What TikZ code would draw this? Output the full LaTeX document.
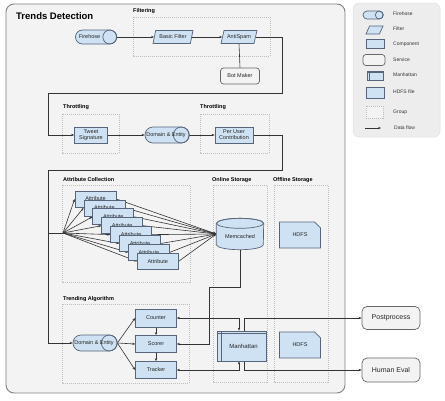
\documentclass[tikz,border=0pt]{standalone}
\usepackage{fontspec}
\setmainfont{Liberation Sans}
\usetikzlibrary{shapes.geometric,shapes.misc,arrows.meta,calc}
\pgfdeclarelayer{back}\pgfdeclarelayer{mid}
\pgfsetlayers{back,mid,main}
\definecolor{compfill}{HTML}{CFE2F3}
\definecolor{compdraw}{HTML}{56657A}
\definecolor{mainfill}{HTML}{F3F3F3}
\definecolor{maindraw}{HTML}{808080}
\definecolor{grpdraw}{HTML}{BDBDBD}
\definecolor{flowcol}{HTML}{333333}
\definecolor{legfill}{HTML}{EDEDED}
\tikzset{
 txt/.style={font=\fontsize{5.5}{6.2}\selectfont, text=black!85},
 grplabel/.style={font=\fontsize{5.5}{6}\selectfont\bfseries, anchor=west, inner sep=0pt},
 grp/.style={draw=grpdraw, dash pattern=on 1pt off 1pt, line width=0.6pt},
 comp/.style={rectangle, draw=compdraw, fill=compfill, line width=0.7pt, inner sep=0pt, txt, align=center},
 filt/.style={trapezium, trapezium left angle=70, trapezium right angle=110, trapezium stretches=true, draw=compdraw, fill=compfill, line width=0.7pt, inner sep=1pt, txt},
 fire/.style={rounded rectangle, draw=compdraw, fill=compfill, line width=0.7pt, inner sep=0pt},
 edge line/.style={draw=compdraw, line width=0.7pt},
 serv/.style={rectangle, rounded corners=3pt, draw=black!60, fill=mainfill, line width=0.7pt, inner sep=0pt, txt},
 hdfsf/.style={chamfered rectangle, chamfered rectangle corners=north east, chamfered rectangle xsep=4pt, chamfered rectangle ysep=4pt, draw=compdraw, fill=compfill, line width=0.7pt, inner sep=0pt, txt},
 flow/.style={draw=flowcol, line width=0.6pt},
 arr/.style={flow, -{Stealth[length=3pt,width=2.4pt]}},
 darr/.style={flow, {Stealth[length=3pt,width=2.4pt]}-{Stealth[length=3pt,width=2.4pt]}},
 legtxt/.style={font=\fontsize{5}{6}\selectfont, text=black!80, anchor=west, inner sep=0pt},
}
% cap circle at the right end of a firehose node: #1 node name, #2 radius
\newcommand{\fhcap}[2]{\draw[edge line] ([xshift=-#2]#1.east) circle[radius=#2];}
% inner lines of a Manhattan node: #1 node name, #2 top offset, #3 left offset
\newcommand{\mhlines}[3]{\draw[edge line] ([yshift=-#2]#1.north west) -- ([yshift=-#2]#1.north east) ([xshift=#3]#1.north west) -- ([xshift=#3]#1.south west);}
\begin{document}
\begin{tikzpicture}[x=1pt,y=-1pt]
\useasboundingbox (0,0) rectangle (445,400);
\begin{pgfonlayer}{back}
\draw[fill=mainfill, draw=maindraw, line width=0.9pt, rounded corners=8pt] (6,4) rectangle (345,393);
\draw[fill=legfill, draw=black!12, line width=0.5pt, rounded corners=6pt] (353,3) rectangle (440,137);
\draw[grp] (133,17) rectangle (270,56);
\draw[grp] (62,114) rectangle (119,153);
\draw[grp] (200,114) rectangle (269,153);
\draw[grp] (62,185) rectangle (190,282);
\draw[grp] (213,185) rectangle (267,382);
\draw[grp] (274,185) rectangle (328,382);
\draw[grp] (62,304) rectangle (189,383);
\end{pgfonlayer}

% titles
\node[font=\fontsize{9.5}{10}\selectfont\bfseries, anchor=west, inner sep=0pt] (title) at (16,16) {Trends Detection};
\node[grplabel] (gFilt) at (133,11) {Filtering};
\node[grplabel] (gThr1) at (63,107) {Throttling};
\node[grplabel] (gThr2) at (200,107) {Throttling};
\node[grplabel] (gAttr) at (63,180) {Attribute Collection};
\node[grplabel] (gOn) at (212,180) {Online Storage};
\node[grplabel] (gOff) at (273,180) {Offline Storage};
\node[grplabel] (gTrend) at (63,299) {Trending Algorithm};

% filtering
\node[fire, minimum height=14pt, minimum width=41pt] (firehose) at (96,37) {};
\fhcap{firehose}{7pt}
\node[txt, inner sep=0pt] (firehoseT) at (89.5,37) {Firehose};
\node[filt, minimum width=40pt, minimum height=13pt] (bfilter) at (173,37) {Basic Filter};
\node[filt, minimum width=36pt, minimum height=13pt] (antispam) at (239,37) {AntiSpam};
\node[serv, minimum width=39pt, minimum height=16pt] (botmaker) at (240,76) {Bot Maker};

% throttling
\node[comp, minimum width=33pt, minimum height=16pt] (tweetsig) at (91,135) {Tweet\\Signature};
\node[fire, minimum height=16pt, minimum width=44pt] (de1) at (167,135) {};
\fhcap{de1}{8pt}
\node[txt, inner sep=0pt] (de1T) at (166,135) {Domain \& Entity};
\node[comp, minimum width=38pt, minimum height=16pt] (peruser) at (234,135) {Per User\\Contribution};

% attributes
\foreach \i in {1,...,8}{
  \node[comp, minimum width=41pt, minimum height=16pt] (attr\i) at ({95.5+(\i-1)*8.9},{199+(\i-1)*8.9}) {Attribute};
}
\node[rectangle, inner sep=0pt, minimum height=31pt, minimum width=47pt] (memc) at (240,234) {};
\filldraw[fill=compfill, edge line] ([yshift=-5pt]memc.north west) -- ([yshift=5pt]memc.south west) arc[start angle=180, end angle=360, x radius=23.5pt, y radius=5pt] -- ([yshift=-5pt]memc.north east) arc[start angle=0, end angle=180, x radius=23.5pt, y radius=5pt] -- cycle;
\draw[edge line] ([yshift=-5pt]memc.north) ellipse[x radius=23.5pt, y radius=5pt];
\node[txt, inner sep=0pt] (memcT) at (240,237) {Memcached};
\node[hdfsf, minimum width=41pt, minimum height=26pt] (hdfs1) at (300,235) {HDFS};

% trending
\node[fire, minimum height=16pt, minimum width=44pt] (de2) at (95,343) {};
\fhcap{de2}{8pt}
\node[txt, inner sep=0pt] (de2T) at (94,343) {Domain \& Entity};
\node[comp, minimum width=41pt, minimum height=18pt] (counter) at (156,318) {Counter};
\node[comp, minimum width=41pt, minimum height=17pt] (scorer) at (156,344) {Scorer};
\node[comp, minimum width=41pt, minimum height=17pt] (tracker) at (156,370) {Tracker};
\node[comp, minimum width=49pt, minimum height=30pt, font=\fontsize{6}{7}\selectfont] (manh) at (241.5,346) {\hspace*{4pt}Manhattan};
\mhlines{manh}{3pt}{5pt}
\node[hdfsf, minimum width=41pt, minimum height=26pt] (hdfs2) at (300,345) {HDFS};
\node[serv, rounded corners=5pt, minimum width=58pt, minimum height=23pt, font=\fontsize{7}{8}\selectfont] (post) at (391,318) {Postprocess};
\node[serv, rounded corners=5pt, minimum width=58pt, minimum height=24pt, font=\fontsize{7}{8}\selectfont] (heval) at (391,370) {Human Eval};

% legend
\node[fire, minimum height=8pt, minimum width=20pt] (lg1) at (373,15) {};
\fhcap{lg1}{4pt}
\node[legtxt] (lt1) at (393,14) {Firehose};
\node[filt, minimum width=17pt, minimum height=8pt] (lg2) at (374.5,30) {};
\node[legtxt] (lt2) at (393,29) {Filter};
\node[comp, minimum width=18pt, minimum height=9pt] (lg3) at (375,44) {};
\node[legtxt] (lt3) at (393,44) {Component};
\node[serv, minimum width=22pt, minimum height=11pt] (lg4) at (374,60) {};
\node[legtxt] (lt4) at (393,60) {Service};
\node[comp, minimum width=16pt, minimum height=9pt] (lg5) at (375,75.5) {};
\mhlines{lg5}{1.5pt}{2.5pt}
\node[legtxt] (lt5) at (393,75) {Manhattan};
\node[hdfsf, chamfered rectangle xsep=2pt, chamfered rectangle ysep=2pt, minimum width=18pt, minimum height=11pt] (lg6) at (375,92.5) {};
\node[legtxt] (lt6) at (393,92) {HDFS file};
\node[rectangle, grp, fill=mainfill, minimum width=17pt, minimum height=12pt, inner sep=0pt] (lg7) at (374.5,112) {};
\node[legtxt] (lt7) at (393,112) {Group};
\coordinate (df1) at (365,128);
\coordinate (df2) at (381,128);
\node[legtxt] (lt8) at (394,127.5) {Data flow};

% connectors
\coordinate (r1) at (282,93);
\coordinate (l1) at (48,93);
\coordinate (r2) at (282,170);
\coordinate (l2) at (48,170);
\coordinate (fan) at (63,233);
\coordinate (ms1) at (209,287);
\begin{pgfonlayer}{mid}
\draw[arr] (df1) -- (df2);
\draw[arr] (firehose.east) -- (bfilter.west);
\draw[arr] (bfilter.east) -- (antispam.west);
\draw[flow] (antispam.south) -- (botmaker.north);
\draw[arr] (antispam.east) -| (r1) -- (l1) |- (tweetsig.west);
\draw[arr] (tweetsig.east) -- (de1.west);
\draw[arr] (de1.east) -- (peruser.west);
\draw[flow] (peruser.east) -| (r2) -- (l2) |- (fan);
\draw[arr] (l2) |- (de2.west);
\foreach \i in {1,...,8}{
  \draw[arr] (fan) -- (attr\i.west);
  \draw[arr] (attr\i.east) -- (memc.west);
}
\draw[arr] (memc.south) |- (ms1) |- (scorer.east);
\draw[arr] (de2.east) -- (counter.west);
\draw[arr] (de2.east) -- (scorer.west);
\draw[arr] (de2.east) -- (tracker.west);
\draw[arr] (counter.south) -- (scorer.north);
\draw[arr] (scorer.south) -- (tracker.north);
\draw[darr] (counter.east) -| ([xshift=-2.5pt]manh.north);
\draw[arr] ([xshift=2.5pt]manh.north) |- (post.west);
\draw[darr] (tracker.east) -| ([xshift=-2.5pt]manh.south);
\draw[arr] ([xshift=2.5pt]manh.south) |- (heval.west);
\end{pgfonlayer}
\end{tikzpicture}
\end{document}
